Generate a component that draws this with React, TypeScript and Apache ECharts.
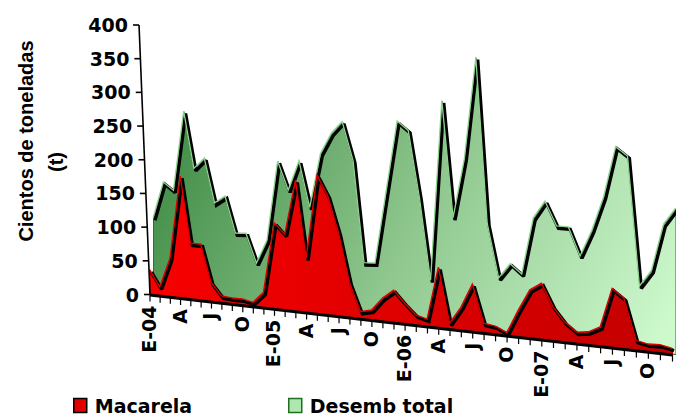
import React, { useEffect, useRef } from 'react';
import * as echarts from 'echarts';

// Month tick labels (E = enero), one per month, Jan 2004 – Dec 2007
const xTickLabels = [
  'E-04', '', '', 'A', '', '', 'J', '', '', 'O', '', '',
  'E-05', '', '', 'A', '', '', 'J', '', '', 'O', '', '',
  'E-06', '', '', 'A', '', '', 'J', '', '', 'O', '', '',
  'E-07', '', '', 'A', '', '', 'J', '', '', 'O', '', '',
];

// Value-axis ticks (cientos de toneladas)
const yTickValues = [0, 50, 100, 150, 200, 250, 300, 350, 400];

// Cientos de toneladas
const macarela = [
  36, 12, 56, 178, 81, 81, 27, 9, 8, 8, 5, 21,
  121, 106, 183, 75, 192, 164, 114, 47, 9, 13, 31, 43,
  27, 13, 9, 80, 7, 30, 62, 12, 10, 3, 34, 62,
  72, 43, 25, 14, 16, 24, 74, 63, 12, 9, 10, 7,
];

const desembTotal = [
  113, 167, 156, 273, 190, 206, 142, 153, 101, 102, 61, 95,
  208, 168, 210, 146, 222, 251, 268, 215, 76, 77, 175, 272,
  260, 171, 61, 302, 147, 227, 361, 143, 73, 93, 81, 155,
  178, 147, 147, 111, 145, 189, 253, 242, 80, 101, 160, 181,
];

const seriesNames = ['Macarela', 'Desemb total'];

// ---- 3D-look projection (layout constants) ----
const N = xTickLabels.length;
const SP_A = 10.12;
const SP_B = 0.0212;
const SLOPE = 0.115;
const GROW = 0.00419;
const Y_TILT = 11 / 270;
const FONT = 'bold 19px "DejaVu Sans"';

const warp = (m: number) =>
  ((N - 1) * (SP_A * m + SP_B * m * m)) / (SP_A * (N - 1) + SP_B * (N - 1) * (N - 1));

function project(api: any, m: number, v: number, dx = 0) {
  const u = warp(m);
  const b = api.coord([u, 0]);
  const t = api.coord([u, v]);
  const o = api.coord([0, 0]);
  const x = b[0];
  const baseY = o[1] + SLOPE * (x - o[0]);
  const h = (b[1] - t[1]) * (1 + GROW * m);
  return [x + dx, baseY - h, baseY];
}

function areaRenderer(values: number[], opts: any) {
  return (params: any, api: any) => {
    if (params.dataIndex !== 0) return { type: 'group', children: [] };
    const pts = values.map((v, i) => project(api, i, v, opts.dx));
    const top = pts.map((p) => [p[0], p[1]]);
    const base = pts.map((p) => [p[0], p[2]]).reverse();
    const children: any[] = [
      {
        type: 'polygon',
        shape: { points: [...top, ...base] },
        style: { fill: opts.fill, stroke: opts.edge, lineWidth: 1 },
      },
      {
        type: 'polyline',
        shape: { points: top.map((p) => [p[0] + 1.5, p[1] + 1.8]) },
        style: { stroke: '#000', lineWidth: 3.4, fill: 'none', lineJoin: 'miter', miterLimit: 2 },
      },
      {
        type: 'polyline',
        shape: { points: top.map((p) => [p[0] - 0.4, p[1] - 0.6]) },
        style: { stroke: opts.highlight, lineWidth: 1.3, fill: 'none' },
      },
    ];
    return { type: 'group', children };
  };
}

function xAxisRenderer(params: any, api: any) {
  const i = params.dataIndex;
  const p = project(api, i, 0);
  const children: any[] = [];
  if (i === 0) {
    const last = project(api, N - 1, 0);
    children.push({
      type: 'line',
      shape: { x1: p[0], y1: p[2] + 0.5, x2: last[0], y2: last[2] + 0.5 },
      style: { stroke: '#000', lineWidth: 3 },
    });
  }
  children.push({
    type: 'line',
    shape: { x1: p[0], y1: p[2], x2: p[0], y2: p[2] + 7 },
    style: { stroke: '#000', lineWidth: 1.2 },
  });
  const label = xTickLabels[i];
  if (label) {
    children.push({
      type: 'text',
      x: p[0] - 1,
      y: p[2] + 11,
      rotation: Math.PI / 2,
      style: { text: label, font: FONT, fill: '#000', align: 'right', verticalAlign: 'middle' },
    });
  }
  return { type: 'group', children };
}

function yAxisRenderer(params: any, api: any) {
  const i = params.dataIndex;
  const v = yTickValues[i];
  const o = api.coord([0, 0]);
  const pt = (val: number) => {
    const c = api.coord([0, val]);
    return [o[0] - Y_TILT * (o[1] - c[1]), c[1]];
  };
  const p = pt(v);
  const children: any[] = [];
  if (i === 0) {
    const topP = pt(yTickValues[yTickValues.length - 1]);
    children.push({
      type: 'line',
      shape: { x1: o[0], y1: o[1], x2: topP[0], y2: topP[1] },
      style: { stroke: '#000', lineWidth: 1.6 },
    });
  }
  children.push({
    type: 'line',
    shape: { x1: p[0] - 6, y1: p[1], x2: p[0], y2: p[1] },
    style: { stroke: '#000', lineWidth: 1.6 },
  });
  children.push({
    type: 'text',
    x: p[0] - 11,
    y: p[1],
    style: { text: String(v), font: FONT, fill: '#000', align: 'right', verticalAlign: 'middle' },
  });
  return { type: 'group', children };
}

export default function App() {
  const ref = useRef<HTMLDivElement>(null);
  useEffect(() => {
    if (!ref.current) return;
    const chart = echarts.init(ref.current, null, { renderer: 'svg' });
    const greenFill = new echarts.graphic.LinearGradient(
      170, 110, 650, 360,
      [
        { offset: 0, color: '#3f8b45' },
        { offset: 0.5, color: '#8fc78e' },
        { offset: 1, color: '#cdf9cd' },
      ],
      true
    );
    const redFill = new echarts.graphic.LinearGradient(
      150, 0, 672, 0,
      [
        { offset: 0, color: '#f80000' },
        { offset: 1, color: '#c20000' },
      ],
      true
    );
    const yMax = yTickValues[yTickValues.length - 1];
    chart.setOption({
      animation: false,
      backgroundColor: '#fff',
      grid: { left: 150, right: 3.5, top: 25, bottom: 122.5, containLabel: false },
      xAxis: { type: 'value', min: 0, max: N - 1, show: false },
      yAxis: {
        type: 'value',
        min: 0,
        max: yMax,
        interval: yTickValues[1] - yTickValues[0],
        axisLine: { show: false },
        axisTick: { show: false },
        axisLabel: { show: false },
        splitLine: { show: false },
      },
      legend: [
        {
          data: [{ name: seriesNames[0], icon: 'rect', itemStyle: { color: '#e00000', borderColor: '#000', borderWidth: 1.5 } }],
          left: 73,
          top: 396,
          padding: 0,
          itemWidth: 13,
          itemHeight: 14,
          textStyle: { color: '#000', fontWeight: 'bold', fontSize: 19, fontFamily: 'DejaVu Sans', padding: [0, 0, 0, 3] },
        },
        {
          data: [{ name: seriesNames[1], icon: 'rect', itemStyle: { color: '#b0e6b0', borderColor: '#1f6f1f', borderWidth: 1.5 } }],
          left: 288,
          top: 396,
          padding: 0,
          itemWidth: 13,
          itemHeight: 14,
          textStyle: { color: '#000', fontWeight: 'bold', fontSize: 19, fontFamily: 'DejaVu Sans', padding: [0, 0, 0, 3] },
        },
      ],
      graphic: [
        {
          type: 'text',
          x: 26,
          y: 141,
          rotation: Math.PI / 2,
          style: { text: 'Cientos de toneladas', font: 'bold 20px "Liberation Sans"', fill: '#000', align: 'center', verticalAlign: 'middle' },
        },
        {
          type: 'text',
          x: 56,
          y: 162,
          rotation: Math.PI / 2,
          style: { text: '(t)', font: 'bold 20px "Liberation Sans"', fill: '#000', align: 'center', verticalAlign: 'middle' },
        },
      ],
      series: [
        {
          name: seriesNames[1],
          type: 'custom',
          z: 2,
          itemStyle: { color: '#b0e6b0' },
          data: desembTotal.map((v, i) => [i, v]),
          encode: { x: 0, y: 1 },
          renderItem: areaRenderer(desembTotal, { dx: 3.5, fill: greenFill, edge: '#2f6f35', highlight: '#8fd48f' }),
        },
        {
          name: seriesNames[0],
          type: 'custom',
          z: 3,
          itemStyle: { color: '#e00000' },
          data: macarela.map((v, i) => [i, v]),
          encode: { x: 0, y: 1 },
          renderItem: areaRenderer(macarela, { dx: 0, fill: redFill, edge: '#c00000', highlight: '#e00000' }),
        },
        {
          name: 'xAxisMarks',
          type: 'custom',
          z: 4,
          silent: true,
          data: xTickLabels.map((_, i) => [i, 0]),
          encode: { x: 0, y: 1 },
          renderItem: xAxisRenderer,
        },
        {
          name: 'yAxisMarks',
          type: 'custom',
          z: 4,
          silent: true,
          data: yTickValues.map((v) => [0, v]),
          encode: { x: 0, y: 1 },
          renderItem: yAxisRenderer,
        },
      ],
    });
    return () => chart.dispose();
  }, []);
  return (
    <div
      ref={ref}
      style={{ position: 'fixed', left: 0, top: 0, width: 676, height: 417, background: '#fff' }}
    />
  );
}
